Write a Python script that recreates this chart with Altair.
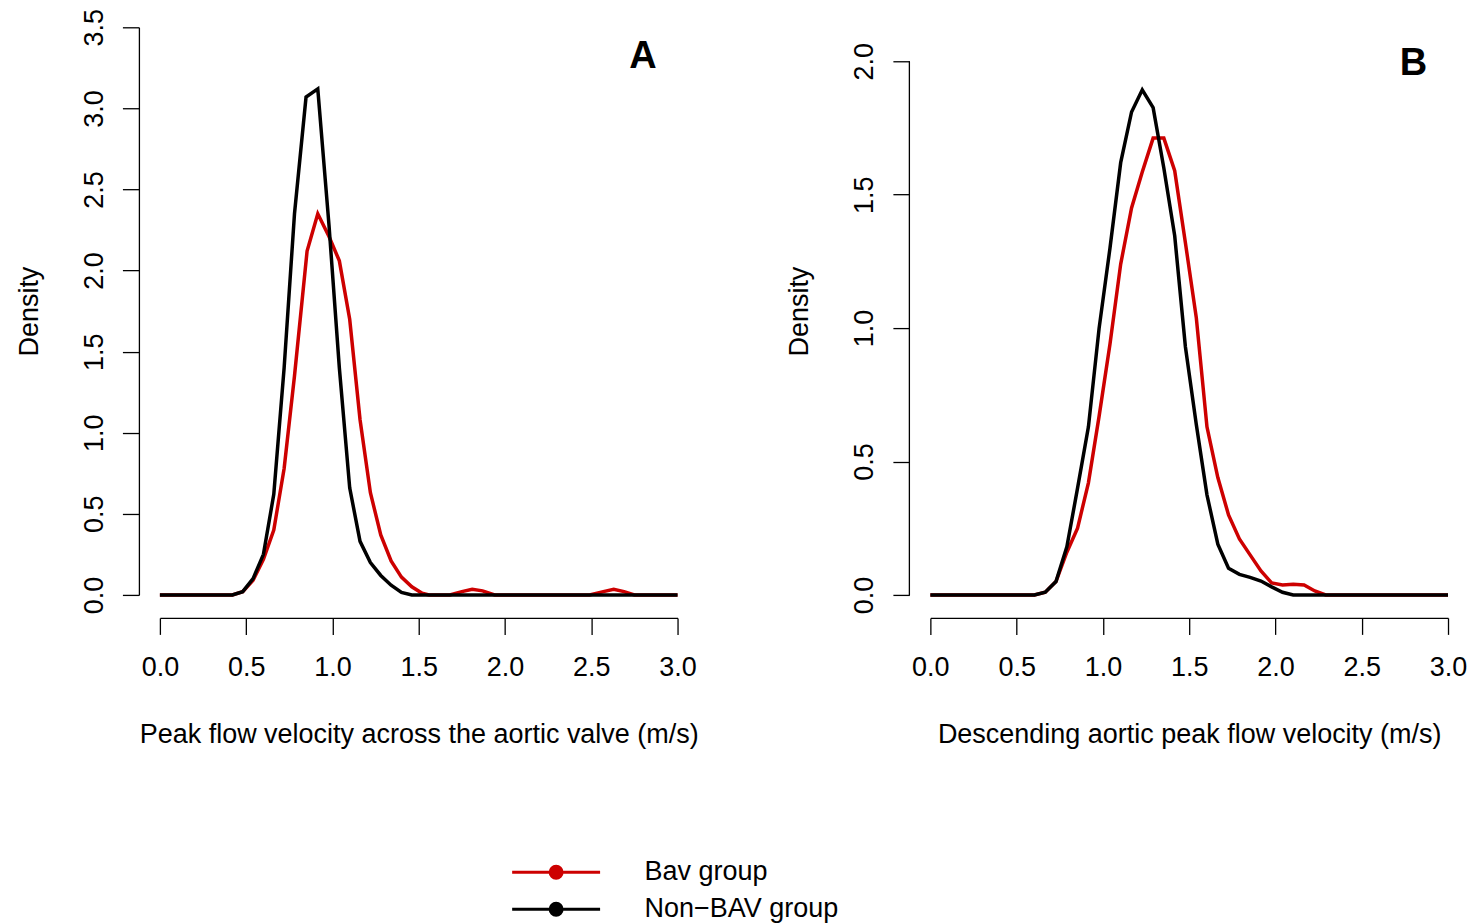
import altair as alt
import pandas as pd

FONT = "Liberation Sans"
groups = ["Bav group", "Non\u2212BAV group"]
colors = ["#CD0000", "#000000"]

# Panel A: Peak flow velocity across the aortic valve
a_bav_x = [0.0, 0.42, 0.48, 0.54, 0.60, 0.66, 0.72, 0.78, 0.853, 0.915, 0.98, 1.04, 1.10, 1.16, 1.22,
           1.28, 1.34, 1.40, 1.46, 1.52, 1.56, 1.68, 1.75, 1.81, 1.87, 1.94, 2.49, 2.57, 2.63, 2.69, 2.75, 3.0]
a_bav_y = [0.0, 0.0, 0.02, 0.09, 0.22, 0.40, 0.78, 1.35, 2.12, 2.35, 2.21, 2.06, 1.70, 1.08, 0.63,
           0.37, 0.21, 0.11, 0.05, 0.01, 0.0, 0.0, 0.02, 0.035, 0.025, 0.0, 0.0, 0.02, 0.035, 0.02, 0.0, 0.0]
a_non_x = [0.0, 0.42, 0.48, 0.54, 0.60, 0.66, 0.72, 0.78, 0.847, 0.915, 0.98, 1.04, 1.10, 1.16, 1.22,
           1.28, 1.34, 1.40, 1.46, 3.0]
a_non_y = [0.0, 0.0, 0.02, 0.10, 0.25, 0.62, 1.40, 2.35, 3.07, 3.12, 2.28, 1.40, 0.66, 0.33, 0.20,
           0.12, 0.06, 0.015, 0.0, 0.0]

# Panel B: Descending aortic peak flow velocity
b_bav_x = [0.0, 0.603, 0.666, 0.728, 0.791, 0.853, 0.916, 0.978, 1.041, 1.103, 1.166, 1.228, 1.291,
           1.353, 1.416, 1.478, 1.541, 1.603, 1.666, 1.728, 1.791, 1.853, 1.916, 1.978, 2.041, 2.103,
           2.166, 2.228, 2.291, 3.0]
b_bav_y = [0.0, 0.0, 0.01, 0.05, 0.16, 0.25, 0.42, 0.67, 0.94, 1.24, 1.45, 1.585, 1.712,
           1.712, 1.59, 1.32, 1.04, 0.63, 0.44, 0.30, 0.21, 0.15, 0.09, 0.045, 0.037, 0.04,
           0.037, 0.015, 0.0, 0.0]
b_non_x = [0.0, 0.603, 0.666, 0.728, 0.791, 0.853, 0.916, 0.978, 1.041, 1.103, 1.166, 1.228, 1.291,
           1.353, 1.416, 1.478, 1.541, 1.603, 1.666, 1.728, 1.791, 1.853, 1.916, 1.978, 2.041, 2.103, 3.0]
b_non_y = [0.0, 0.0, 0.01, 0.05, 0.18, 0.40, 0.63, 1.00, 1.30, 1.62, 1.81, 1.893, 1.826,
           1.60, 1.346, 0.93, 0.64, 0.375, 0.19, 0.10, 0.077, 0.066, 0.052, 0.03, 0.01, 0.0, 0.0]

x_ticks = [0.0, 0.5, 1.0, 1.5, 2.0, 2.5, 3.0]
a_y_ticks = [0.0, 0.5, 1.0, 1.5, 2.0, 2.5, 3.0, 3.5]
b_y_ticks = [0.0, 0.5, 1.0, 1.5, 2.0]


def frame(x0, y0, x1, y1):
    return pd.concat([
        pd.DataFrame({"x": x0, "y": y0, "group": groups[0]}),
        pd.DataFrame({"x": x1, "y": y1, "group": groups[1]}),
    ], ignore_index=True)


df_a = frame(a_bav_x, a_bav_y, a_non_x, a_non_y)
df_b = frame(b_bav_x, b_bav_y, b_non_x, b_non_y)


def ring(r):
    return f"M{-r},0A{r},{r},0,1,1,{r},0A{r},{r},0,1,1,{-r},0"


# legend symbol (unit = 7 px): a long line with a solid dot built from concentric rings
half_len = 44 / 7
symbol_path = f"M{-half_len:.3f},0L{half_len:.3f},0" + "".join(ring(r) for r in [0.857, 0.571, 0.286, 0.07])
legend = alt.Legend(
    title=None, orient="none", legendX=383, legendY=832,
    symbolType=symbol_path, symbolSize=14 * 14, symbolStrokeWidth=3,
    labelFont=FONT, labelFontSize=27, labelColor="black", labelOffset=75,
    labelLimit=600, rowPadding=9,
)
color = alt.Color("group:N", scale=alt.Scale(domain=groups, range=colors), legend=legend)

W = 518
H = 568


def panel(df, ytop, yticks, xtitle, letter, letter_y, draw_domain):
    xs = alt.Scale(domain=[0, 3], nice=False)
    ys = alt.Scale(domain=[0, ytop], nice=False)
    xaxis = alt.Axis(values=x_ticks, format=".1f", offset=23, title=xtitle,
                     labelPadding=20, titlePadding=41, labelFlush=False)
    yaxis = alt.Axis(values=yticks, format=".1f", offset=21, title="Density",
                     labelAngle=270, labelPadding=14, titlePadding=37,
                     labelFlush=False, domain=draw_domain)
    lines = alt.Chart(df).mark_line(strokeWidth=3.5).encode(
        x=alt.X("x:Q", scale=xs, axis=xaxis),
        y=alt.Y("y:Q", scale=ys, axis=yaxis),
        color=color,
        detail="group:N",
    )
    lab = pd.DataFrame({"x": [2.80], "y": [letter_y], "t": [letter]})
    txt = alt.Chart(lab).mark_text(font=FONT, fontSize=38, fontWeight="bold",
                                   baseline="middle", align="center", color="black").encode(
        x=alt.X("x:Q", scale=xs), y=alt.Y("y:Q", scale=ys), text="t:N")
    layers = [lines, txt]
    if not draw_domain:
        dom = pd.DataFrame({"y0": [yticks[0]], "y1": [yticks[-1]]})
        rule = alt.Chart(dom).mark_rule(color="black", strokeWidth=1.3).encode(
            x=alt.value(-21), y=alt.Y("y0:Q", scale=ys), y2="y1:Q")
        layers.append(rule)
    return alt.layer(*layers).properties(width=W, height=H)


pa = panel(df_a, 3.5, a_y_ticks, "Peak flow velocity across the aortic valve (m/s)", "A", 3.315, True)
pb = panel(df_b, 2.0 * 568 / 534, b_y_ticks, "Descending aortic peak flow velocity (m/s)", "B", 1.99, False)

chart = alt.hconcat(pa, pb, spacing=253, bounds="flush").properties(
    padding={"left": 7, "top": 0, "right": 0, "bottom": 0}
).configure_view(stroke=None).configure_axis(
    labelFont=FONT, labelFontSize=27, labelColor="black",
    titleFont=FONT, titleFontSize=27, titleFontWeight="normal", titleColor="black",
    tickSize=16.5, tickColor="black", tickWidth=1.3,
    domainColor="black", domainWidth=1.3, grid=False,
)

chart.save("out.html", embed_options={"renderer": "svg", "actions": False})
